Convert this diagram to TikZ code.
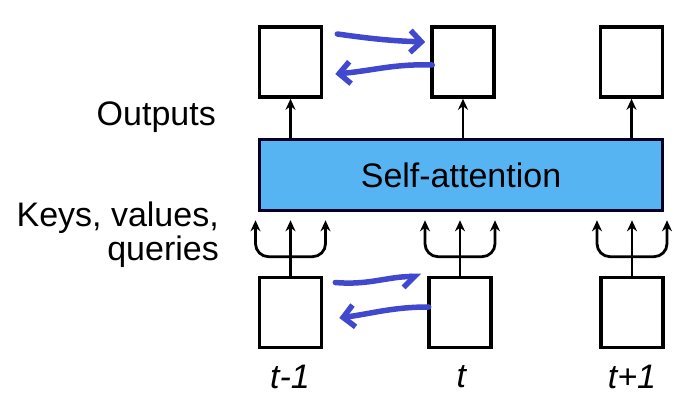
\documentclass[tikz,border=0pt]{standalone}
\usepackage{fontspec}
\setmainfont{Liberation Sans}
\usetikzlibrary{positioning, arrows.meta}

\definecolor{saBlue}{RGB}{86,180,242}
\definecolor{penBlue}{RGB}{64,72,206}

\begin{document}
\begin{tikzpicture}[x=1pt, y=1pt, >={Stealth[length=11pt,width=10pt]},
    tok/.style={draw, line width=3.6pt, fill=white,
                minimum width=62pt, minimum height=70pt, inner sep=0pt},
    lbl/.style={font=\fontsize{34}{34}\selectfont, inner sep=0pt},
    pen/.style={penBlue, line width=5.5pt, line cap=round,
                -{Straight Barb[length=11pt,width=22pt,line width=5.5pt]}}]
  \useasboundingbox (0,0) rectangle (674,406);

  % attention layer
  \node[draw=black!85!blue, line width=3.6pt, fill=saBlue,
        minimum width=403pt, minimum height=71pt, lbl] (sa) at (461,231) {Self-attention};

  % outputs
  \node[tok] (o1) at (290.5,344) {};
  \node[tok] (o2) at (463,344) {};
  \node[tok] (o3) at (631.5,344) {};

  % inputs
  \node[tok] (i1) at (290.5,93.5) {};
  \node[tok] (i2) at (460,93.5) {};
  \node[tok] (i3) at (632,93.5) {};

  \foreach \o in {o1,o2,o3}
    \draw[->, line width=2.8pt] (\o |- sa.north) -- (\o.south);

  % keys, values, queries fan out
  \foreach \i in {i1,i2,i3} {
    \draw[->, line width=2.8pt, shorten >=8pt] (\i.north) -- (\i.north |- sa.south);
    \draw[->, line width=2.8pt, shorten >=8pt, rounded corners=13pt]
      ([yshift=19pt]\i.north) -| ([xshift=-35pt]\i.north |- sa.south);
    \draw[->, line width=2.8pt, shorten >=8pt, rounded corners=13pt]
      ([yshift=19pt]\i.north) -| ([xshift=35pt]\i.north |- sa.south);
  }

  \node[lbl, anchor=east] (out) at (216,289) {Outputs};
  \node[lbl, anchor=east, align=right] (kvq) at (219,171) {Keys, values,\\queries};

  \node[lbl] (t1) at (290,29) {\textit{t-1}};
  \node[lbl] (t2) at (462,29) {\textit{t}};
  \node[lbl] (t3) at (632,29) {\textit{t+1}};

  % hand-drawn notes
  \draw[pen] ([shift={(14,28)}]o1.east) to[out=-8,in=178] ([shift={(-5,20)}]o2.west);
  \draw[pen] ([shift={(2,-3)}]o2.west) to[out=178,in=5] ([shift={(12,-12)}]o1.east);
  \draw[pen, -{Straight Barb[harpoon,swap,length=11pt,width=22pt,line width=5.5pt]}]
    ([shift={(12,30)}]i1.east) to[out=-5,in=180] ([shift={(-6,36)}]i2.west);
  \draw[pen] ([shift={(1.5,5.5)}]i2.west) to[out=180,in=8] ([shift={(16,-5.5)}]i1.east);
\end{tikzpicture}
\end{document}
